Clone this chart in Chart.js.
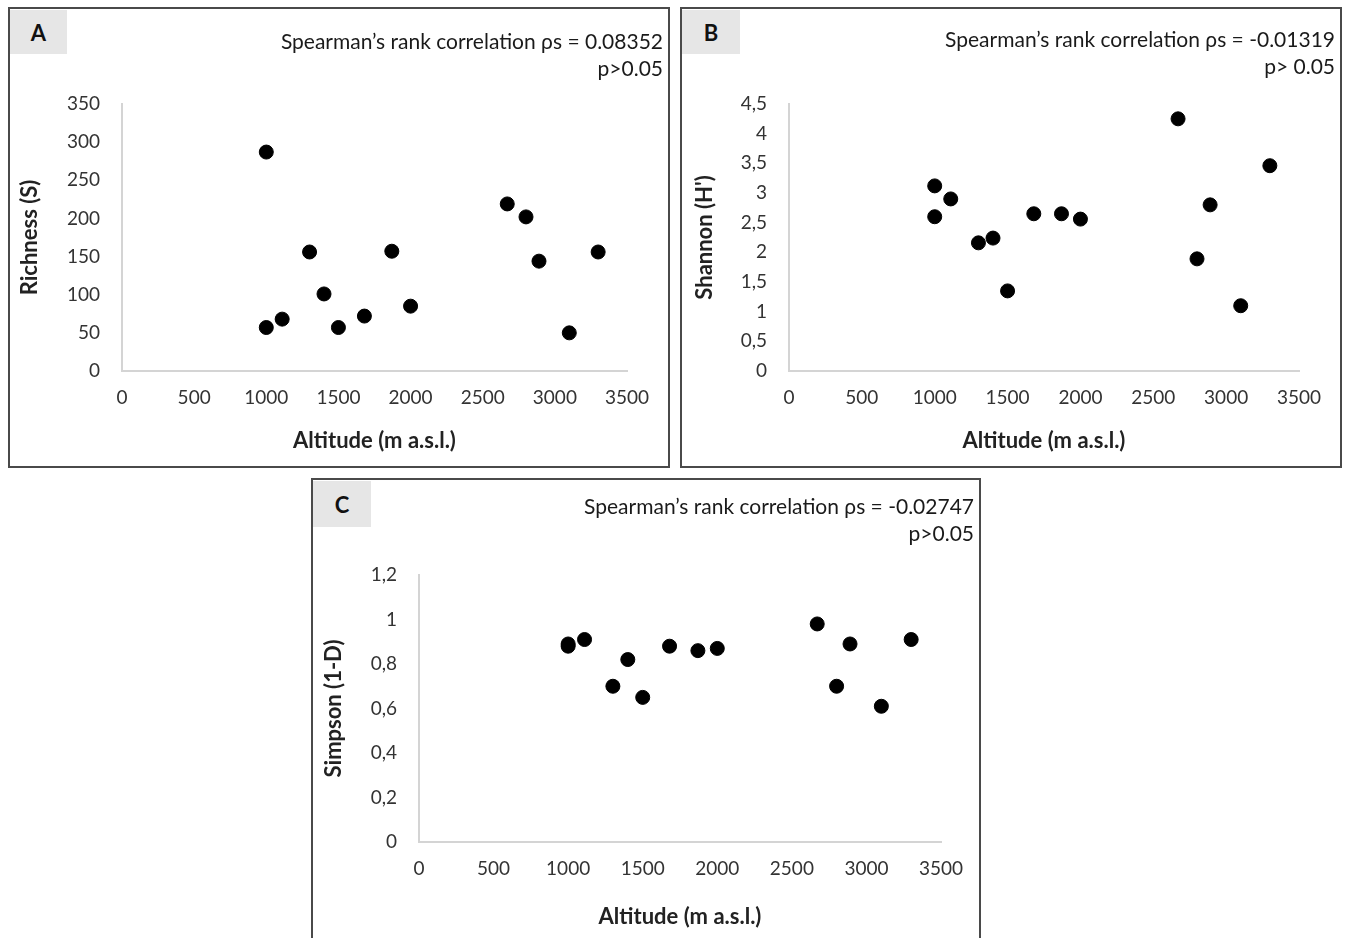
<!DOCTYPE html>
<html>
<head>
<meta charset="utf-8">
<title>Diversity vs altitude</title>
<script src="https://cdn.jsdelivr.net/npm/chart.js@4.4.0/dist/chart.umd.min.js"></script>
<style>
    body { margin: 0; width: 1349px; height: 938px; overflow: hidden; background: #fff; font-family: Lato, sans-serif; }
    .panel { position: absolute; border: 2px solid #4a4a4a; box-sizing: border-box; }
    .tag { position: absolute; background: #e6e6e6; font-weight: bold; font-size: 22px; color: #111;
           display: flex; align-items: center; justify-content: center; }
    .stat { position: absolute; right: 5px; text-align: right; font-size: 21px; line-height: 27px; color: #1a1a1a; white-space: nowrap; }
    .plot { position: absolute; left: 0; top: 0; }
</style>
</head>
<body>

<div class="panel" style="left:8px;top:7px;width:662px;height:461px;">
    <div class="plot" style="width:658px;height:457px;"><canvas id="chartA"></canvas></div>
    <div class="tag" style="left:0;top:1px;width:57px;height:44px;">A</div>
    <div class="stat" style="top:18px;">Spearman’s rank correlation ρs = 0.08352<br>p&gt;0.05</div>
</div>

<div class="panel" style="left:680px;top:7px;width:662px;height:461px;">
    <div class="plot" style="width:658px;height:457px;"><canvas id="chartB"></canvas></div>
    <div class="tag" style="left:0;top:1px;width:58px;height:44px;">B</div>
    <div class="stat" style="top:16px;">Spearman’s rank correlation ρs = -0.01319<br>p&gt; 0.05</div>
</div>

<div class="panel" style="left:311px;top:478px;width:670px;height:480px;">
    <div class="plot" style="width:666px;height:476px;"><canvas id="chartC"></canvas></div>
    <div class="tag" style="left:0;top:1px;width:58px;height:46px;">C</div>
    <div class="stat" style="top:12px;">Spearman’s rank correlation ρs = -0.02747<br>p&gt;0.05</div>
</div>

<script>
// sampling sites (m a.s.l.), same order in all three panels
const altitude = [1000, 1000, 1110, 1300, 1400, 1500, 1680, 1870, 2000, 2670, 2800, 2890, 3100, 3300];
const richness = [287, 57, 68, 156, 101, 57, 72, 157, 85, 219, 202, 144, 50, 156];
const shannon  = [3.12, 2.60, 2.90, 2.16, 2.24, 1.35, 2.65, 2.65, 2.56, 4.25, 1.89, 2.80, 1.10, 3.46];
const simpson  = [0.89, 0.88, 0.91, 0.70, 0.82, 0.65, 0.88, 0.86, 0.87, 0.98, 0.70, 0.89, 0.61, 0.91];

const xTicks = [0, 500, 1000, 1500, 2000, 2500, 3000, 3500];
const richnessTicks = [0, 50, 100, 150, 200, 250, 300, 350];
const shannonTicks  = [0, 0.5, 1, 1.5, 2, 2.5, 3, 3.5, 4, 4.5];
const simpsonTicks  = [0, 0.2, 0.4, 0.6, 0.8, 1, 1.2];

const charts = {};

/**
 * Build one scatter panel
 */
function makeScatter(id, values, yTicks, yTitle, box) {
    const ctx = document.getElementById(id).getContext('2d');
    const axisColor = '#d4d4d4';
    const tickFont = { family: 'Lato', size: 19 };
    const titleFont = { family: 'Lato', size: 22, weight: 'bold' };

    return new Chart(ctx, {
        type: 'scatter',
        data: {
            datasets: [{
                data: altitude.map((a, i) => ({ x: a, y: values[i] })),
                backgroundColor: '#000',
                borderColor: '#000',
                pointRadius: 7,
                pointHoverRadius: 7
            }]
        },
        options: {
            responsive: true,
            maintainAspectRatio: false,
            animation: false,
            layout: { padding: { top: 95, right: box.right, left: 0, bottom: 0 } },
            plugins: { legend: { display: false }, tooltip: { enabled: false } },
            scales: {
                x: {
                    type: 'linear',
                    min: xTicks[0],
                    max: xTicks[xTicks.length - 1],
                    afterBuildTicks: s => { s.ticks = xTicks.map(v => ({ value: v })); },
                    afterFit: s => { s.height = box.xHeight; },
                    grid: { display: false, drawTicks: false },
                    border: { display: true, color: axisColor, width: 2 },
                    ticks: { font: tickFont, color: '#333', padding: 15.6, maxRotation: 0,
                             callback: v => String(v) },
                    title: { display: true, text: 'Altitude (m a.s.l.)', font: titleFont, color: '#222',
                             padding: { top: 0, bottom: box.xTitlePad } }
                },
                y: {
                    type: 'linear',
                    min: yTicks[0],
                    max: yTicks[yTicks.length - 1],
                    afterBuildTicks: s => { s.ticks = yTicks.map(v => ({ value: v })); },
                    afterFit: s => { s.width = box.yWidth; },
                    grid: { display: false, drawTicks: false },
                    border: { display: true, color: axisColor, width: 2 },
                    ticks: {
                        font: tickFont, color: '#333', padding: 22,
                        callback: v => String(v).replace('.', ',')
                    },
                    title: { display: true, text: yTitle, font: titleFont, color: '#222',
                             padding: { top: box.yTitlePad, bottom: 0 } }
                }
            }
        }
    });
}

document.fonts.load('bold 22px Lato').then(() => document.fonts.load('19px Lato')).finally(() => {
    charts.a = makeScatter('chartA', richness, richnessTicks, 'Richness (S)',
        { right: 41, xHeight: 95, yWidth: 112, yTitlePad: 6.3, xTitlePad: 11.8 });
    charts.b = makeScatter('chartB', shannon, shannonTicks, "Shannon (H')",
        { right: 41, xHeight: 95, yWidth: 107, yTitlePad: 9.8, xTitlePad: 11.8 });
    charts.c = makeScatter('chartC', simpson, simpsonTicks, 'Simpson (1-D)',
        { right: 38, xHeight: 114, yWidth: 106, yTitlePad: 7.3, xTitlePad: 25.8 });
});
</script>
</body>
</html>
